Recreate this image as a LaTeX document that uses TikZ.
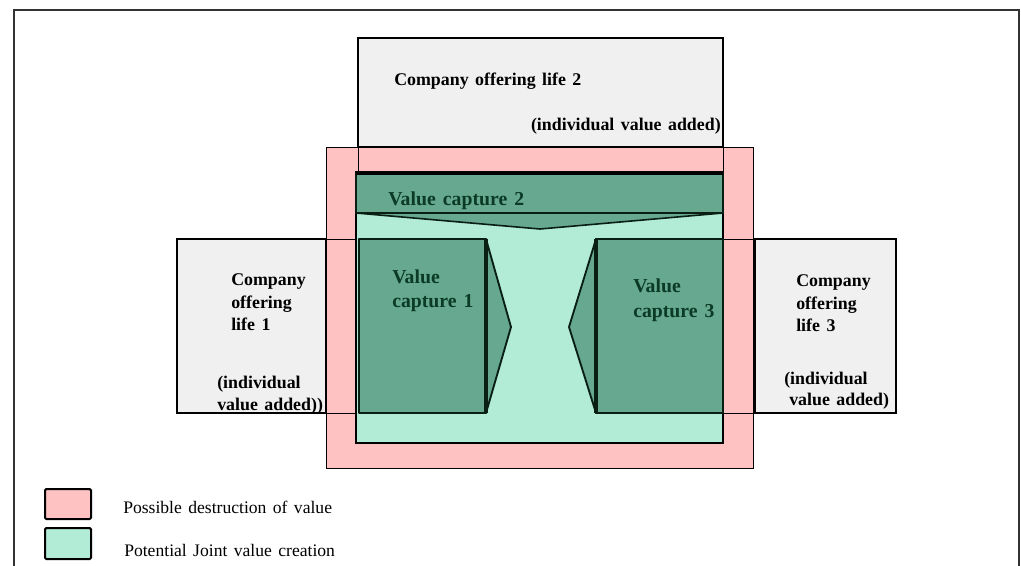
\documentclass[tikz,border=0pt]{standalone}
\usepackage{fontspec}
\setmainfont[WordSpace=1.45]{Liberation Serif}
\definecolor{pinkfill}{HTML}{FFC2C2}
\definecolor{mint}{HTML}{B2ECD6}
\definecolor{dgreen}{HTML}{66A890}
\definecolor{dtext}{HTML}{0B3A26}
\definecolor{greyfill}{HTML}{F0F0F0}
\definecolor{framec}{HTML}{333333}
\definecolor{edgec}{HTML}{0A1F14}
\tikzset{
  frameline/.style={draw=framec,line width=1.5pt},
  greybox/.style={fill=greyfill,draw=black,line width=1.5pt},
  thinline/.style={draw=black,line width=0.6pt},
  vcbox/.style={fill=dgreen,draw=edgec,line width=1.4pt,line join=round},
  vcedge/.style={draw=edgec,line width=2.6pt},
  lbl/.style={font=\bfseries\fontsize{13.4}{16}\selectfont,text=black,inner sep=0pt,anchor=base west},
  vclbl/.style={font=\bfseries\fontsize{14.8}{18}\selectfont,text=dtext,inner sep=0pt,anchor=base west},
  legtxt/.style={font=\fontsize{13.2}{15}\selectfont,text=black,inner sep=0pt,anchor=base west},
  legbox/.style={draw=black,line width=1.5pt,rounded corners=1pt},
}
\begin{document}
\begin{tikzpicture}[x=0.75pt,y=-0.75pt]
\useasboundingbox (0,0) rectangle (1021,565);
% outer frame
\draw[frameline] (14,566) -- (14,10) -- (1019,10) -- (1019,566);
% top company box
\draw[greybox] (358,38) rectangle (723,147);
% pink region
\draw[fill=pinkfill,thinline] (326,147) rectangle (753,468);
% box outlines seen through the pink
\draw[thinline] (358,147) -- (358,172) (723,147) -- (723,172);
\draw[thinline] (326,239) -- (356,239) (326,413) -- (356,413);
\draw[thinline] (723,239) -- (755,239) (723,413) -- (755,413);
% mint region
\draw[fill=mint,draw=black,line width=1.2pt] (356,172) rectangle (723,443);
% value capture 2
\draw[fill=dgreen,draw=edgec,line width=1.2pt,line join=round] (356,213) -- (540,229) -- (723,213) -- cycle;
\draw[vcbox] (356,173) rectangle (723,213);
\draw[draw=black,line width=2.4pt] (356,173) -- (723,173);
% value capture 1
\draw[vcbox] (486,239) -- (511,327) -- (486,413) -- cycle;
\draw[vcbox] (359,239) rectangle (486,413);
\draw[vcedge] (486,239) -- (486,413);
% value capture 3
\draw[vcbox] (596,239) -- (569,327) -- (596,413) -- cycle;
\draw[vcbox] (596,239) rectangle (723,413);
\draw[vcedge] (596,239) -- (596,413);
% side company boxes
\draw[greybox] (177,239) rectangle (326,413);
\draw[greybox] (755,239) rectangle (896,413);
% texts
\node[lbl] (c2) at (394,85) {Company offering life 2};
\node[lbl,anchor=base east] (c2b) at (721,130) {(individual value added)};
\node[lbl] (c1a) at (231,285) {Company};
\node[lbl] (c1b) at (231,308) {offering};
\node[lbl] (c1c) at (231,330) {life 1};
\node[lbl] (c1d) at (217,388) {(individual};
\node[lbl] (c1e) at (217,410) {value added))};
\node[lbl] (c3a) at (796,286) {Company};
\node[lbl] (c3b) at (796,309) {offering};
\node[lbl] (c3c) at (796,331) {life 3};
\node[lbl] (c3d) at (784,384) {(individual};
\node[lbl] (c3e) at (789,405) {value added)};
\node[vclbl] (v2) at (388,205) {Value capture 2};
\node[vclbl] (v1a) at (392,283) {Value};
\node[vclbl] (v1b) at (392,307) {capture 1};
\node[vclbl] (v3a) at (633,292) {Value};
\node[vclbl] (v3b) at (633,317) {capture 3};
% legend
\draw[legbox,fill=pinkfill] (45,489) rectangle (91,519);
\draw[legbox,fill=mint] (45,528) rectangle (91,559);
\node[legtxt] (l1) at (123,513) {Possible destruction of value};
\node[legtxt] (l2) at (124,556) {Potential Joint value creation};
\end{tikzpicture}
\end{document}
